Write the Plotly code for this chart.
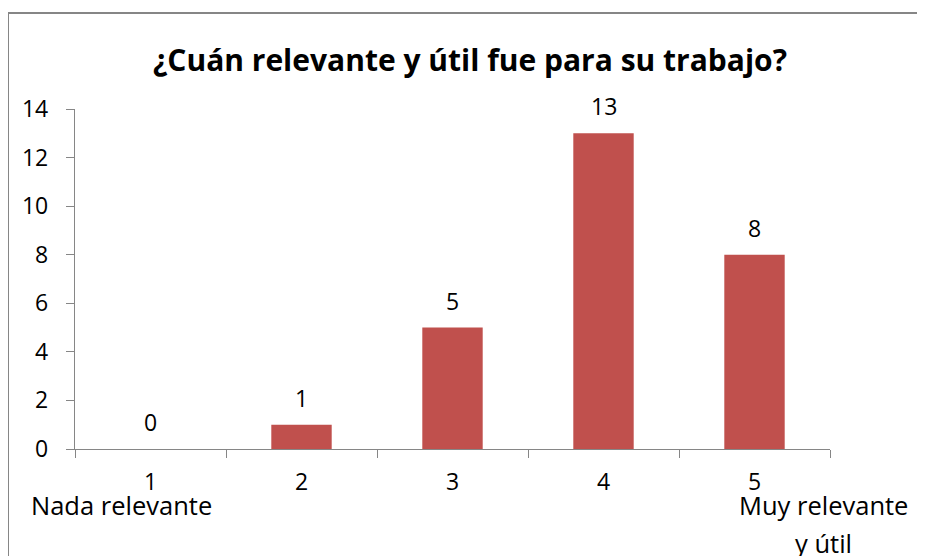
import plotly.graph_objects as go

categories = ["1", "2", "3", "4", "5"]
values = [0, 1, 5, 13, 8]
y_ticks = [0, 2, 4, 6, 8, 10, 12, 14]
title_text = "¿Cuán relevante y útil fue para su trabajo?"
low_label = "Nada relevante"
high_label = ["Muy relevante", "y útil"]

BAR = "#C0504D"
AXIS = "#868686"
FONT = "Open Sans"

OFF = 8  # page body margin
W, H = 925 - OFF, 556 - OFF
# plot area in page pixels
PX0, PX1, PY0, PY1 = 75, 830, 109, 449
L, R = PX0 - OFF, W - (PX1 - OFF)
T, B = PY0 - OFF, H - (PY1 - OFF)
pw, ph = W - L - R, H - T - B


def px_x(x):
    return (x - OFF - L) / pw


def px_y(y):
    return (H - B - (y - OFF)) / ph


fig = go.Figure(go.Bar(
    x=list(range(len(categories))), y=values, marker_color=BAR,
    marker_line_width=0, width=0.4, hoverinfo="skip"))

txt = dict(family=FONT, size=23, color="black")
ann = []
for i, v in enumerate(values):
    ann.append(dict(x=i, y=v, xref="x", yref="y", text=str(v), showarrow=False,
                    xanchor="center", yanchor="middle", yshift=27, font=txt))
for i, c in enumerate(categories):
    ann.append(dict(x=i, y=0, xref="x", yref="y", text=c, showarrow=False,
                    xanchor="center", yanchor="middle", yshift=-(481 - PY1), font=txt))


def page_ann(text, x, y, size=25.5, bold=False):
    return dict(x=px_x(x), y=px_y(y), xref="paper", yref="paper",
                text=("<b>%s</b>" % text) if bold else text, showarrow=False,
                xanchor="center", yanchor="middle",
                font=dict(family=FONT, size=size, color="black"))


ann.append(page_ann(low_label, 121, 505))
ann.append(page_ann(high_label[0], 823, 505))
ann.append(page_ann(high_label[1], 823, 543))
ann.append(page_ann(title_text, 470, 59, size=30, bold=True))

fig.update_layout(
    width=W, height=H, margin=dict(l=L, r=R, t=T, b=B, autoexpand=False),
    paper_bgcolor="white", plot_bgcolor="white", showlegend=False,
    annotations=ann,
    xaxis=dict(range=[-0.5, 4.5], tickvals=[-0.5, 0.5, 1.5, 2.5, 3.5, 4.5],
               ticktext=[""] * 6, ticks="outside", ticklen=8, tickcolor=AXIS,
               tickwidth=1.3, showline=True, linecolor=AXIS, linewidth=1.3,
               showgrid=False, zeroline=False, fixedrange=True),
    yaxis=dict(range=[0, 14], tickvals=y_ticks, ticks="outside", ticklen=8,
               tickcolor=AXIS, tickwidth=1.3, showline=True, linecolor=AXIS,
               linewidth=1.3, showgrid=False, zeroline=False, ticklabelstandoff=13,
               tickfont=dict(family=FONT, size=23, color="black"), fixedrange=True),
    shapes=[
        dict(type="line", xref="paper", yref="paper", x0=px_x(7), x1=px_x(930),
             y0=px_y(13), y1=px_y(13), line=dict(color=AXIS, width=2)),
        dict(type="line", xref="paper", yref="paper", x0=px_x(8), x1=px_x(8),
             y0=px_y(12), y1=px_y(560), line=dict(color=AXIS, width=2)),
    ],
)

fig.write_html("out.html", config={"displayModeBar": False})
